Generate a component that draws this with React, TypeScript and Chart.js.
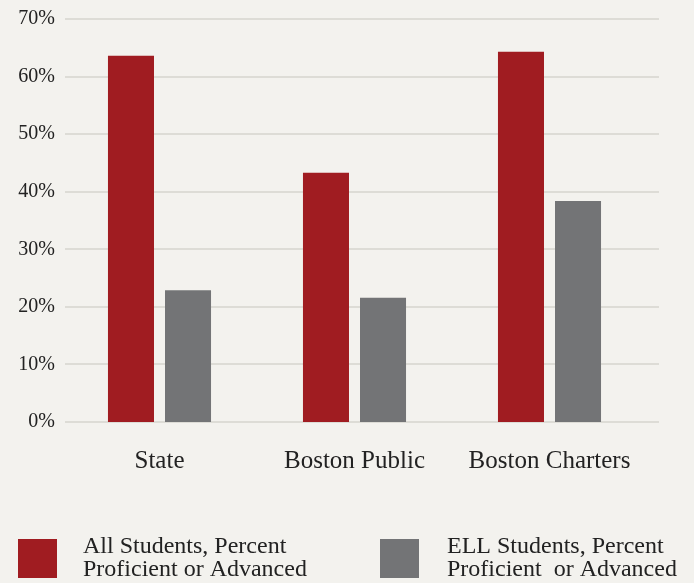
import React, { useEffect, useRef } from "react";
import { Chart, registerables } from "chart.js";

Chart.register(...registerables);

const categories = ["State", "Boston Public", "Boston Charters"];
const allStudents = [63.6, 43.3, 64.3];
const ellStudents = [22.9, 21.6, 38.4];
const seriesLabels = [
  ["All Students, Percent", "Proficient or Advanced"],
  ["ELL Students, Percent", "Proficient  or Advanced"],
];
const seriesColors = ["#a01c21", "#737476"];
const yMax = 70;
const yStep = 10;

const FONT = "'Liberation Serif', 'Times New Roman', serif";

const gridPlugin = {
  id: "extendedGrid",
  beforeDatasetsDraw(chart: any) {
    const { ctx, chartArea } = chart;
    const y = chart.scales.y;
    ctx.save();
    ctx.strokeStyle = "#dddcd6";
    ctx.lineWidth = 2;
    y.ticks.forEach((t: any) => {
      const py = Math.round(y.getPixelForValue(t.value));
      ctx.beginPath();
      ctx.moveTo(chartArea.left + 3, py);
      ctx.lineTo(chartArea.right + 12, py);
      ctx.stroke();
    });
    ctx.restore();
  },
};

const legendPlugin = {
  id: "customLegend",
  afterDraw(chart: any) {
    const { ctx } = chart;
    const items = [
      { box: 18, text: 83 },
      { box: 380, text: 447 },
    ];
    ctx.save();
    chart.data.datasets.forEach((ds: any, i: number) => {
      const pos = items[i];
      ctx.fillStyle = ds.backgroundColor;
      ctx.fillRect(pos.box, 539, 39, 39);
      ctx.fillStyle = "#222";
      ctx.font = `24px ${FONT}`;
      ctx.textBaseline = "alphabetic";
      ctx.textAlign = "left";
      (ds.legendLines as string[]).forEach((line: string, j: number) => {
        ctx.fillText(line, pos.text, 553 + j * 23);
      });
    });
    ctx.restore();
  },
};

export default function App() {
  const ref = useRef<HTMLCanvasElement>(null);
  useEffect(() => {
    document.body.style.margin = "0";
    const chart = new Chart(ref.current!, {
      type: "bar",
      data: {
        labels: categories,
        datasets: [
          {
            label: seriesLabels[0].join(" "),
            legendLines: seriesLabels[0],
            data: allStudents,
            backgroundColor: seriesColors[0],
            barPercentage: 0.807,
            categoryPercentage: 0.585,
          } as any,
          {
            label: seriesLabels[1].join(" "),
            legendLines: seriesLabels[1],
            data: ellStudents,
            backgroundColor: seriesColors[1],
            barPercentage: 0.807,
            categoryPercentage: 0.585,
          } as any,
        ],
      },
      options: {
        responsive: false,
        animation: false,
        devicePixelRatio: 1,
        layout: { padding: { top: 16, right: 47, left: 0, bottom: 0 } },
        plugins: { legend: { display: false }, tooltip: { enabled: false } },
        scales: {
          x: {
            grid: { display: false, drawTicks: false },
            border: { display: false },
            ticks: {
              color: "#222",
              font: { family: FONT, size: 25 },
              padding: 24,
            },
            afterFit: (s: any) => {
              s.height = 161;
            },
          },
          y: {
            min: 0,
            max: yMax,
            grid: { display: false, drawTicks: false },
            border: { display: false },
            ticks: {
              stepSize: yStep,
              color: "#222",
              font: { family: FONT, size: 20 },
              padding: 7,
              callback: (v: any) => v + "%",
            },
            afterFit: (s: any) => {
              s.width = 62;
            },
          },
        },
      },
      plugins: [gridPlugin, legendPlugin],
    });
    return () => chart.destroy();
  }, []);
  return (
    <div style={{ width: 694, height: 583, background: "#f3f2ee" }}>
      <canvas ref={ref} width={694} height={583} style={{ display: "block" }} />
    </div>
  );
}
